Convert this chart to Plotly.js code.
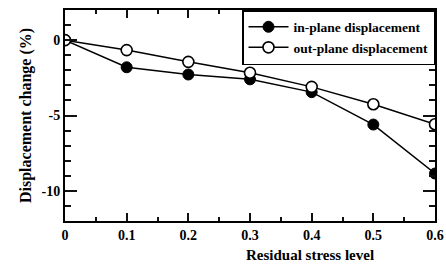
<!DOCTYPE html>
<html>
<head>
<meta charset="utf-8">
<script src="https://cdn.plot.ly/plotly-3.0.1.min.js"></script>
<style>html,body{margin:0;padding:0;background:#fff;}#chart{width:446px;height:268px;}</style>
</head>
<body>
<div id="chart"></div>
<script>
const stressLevel = [0, 0.1, 0.2, 0.3, 0.4, 0.5, 0.6];
const inPlane = [0, -1.8, -2.28, -2.6, -3.45, -5.6, -8.85];
const outPlane = [0, -0.66, -1.44, -2.16, -3.1, -4.25, -5.58];
const yLabelAlias = {'\u22125': '-5', '\u221210': '-10'};

const fontFam = '"Liberation Serif", "Times New Roman", serif';

const traces = [
  {
    x: stressLevel, y: inPlane, name: 'in-plane displacement',
    mode: 'lines+markers', type: 'scatter',
    line: {color: '#000', width: 1.5},
    marker: {symbol: 'circle', size: 11, color: '#000', line: {color: '#000', width: 1}}
  },
  {
    x: stressLevel, y: outPlane, name: 'out-plane displacement',
    mode: 'lines+markers', type: 'scatter',
    line: {color: '#000', width: 1.5},
    marker: {symbol: 'circle', size: 11, color: '#fff', line: {color: '#000', width: 1.6}}
  }
];

const layout = {
  width: 446, height: 268,
  margin: {l: 65, r: 11, t: 10, b: 47},
  paper_bgcolor: '#fff', plot_bgcolor: '#fff',
  font: {family: fontFam, size: 14, color: '#000', weight: 'bold'},
  showlegend: true,
  legend: {
    x: 1, xanchor: 'right', y: 1, yanchor: 'top',
    bordercolor: '#000', borderwidth: 1.5, bgcolor: '#fff',
    font: {family: fontFam, size: 13.5, color: '#000', weight: 'bold'},
    tracegroupgap: 0, itemwidth: 40
  },
  xaxis: {
    range: [0, 0.6], showgrid: false, zeroline: false,
    showline: true, linecolor: 'black', linewidth: 2, mirror: 'ticks',
    ticks: 'inside', ticklen: 8, tickwidth: 2, tickcolor: '#111',
    dtick: 0.1,
    tickfont: {family: fontFam, size: 14, color: '#000', weight: 'bold'},
    minor: {dtick: 0.05, ticks: 'inside', ticklen: 4, tickwidth: 2, tickcolor: '#111'}
  },
  yaxis: {
    range: [-12, 2], showgrid: false, zeroline: false,
    showline: true, linecolor: 'black', linewidth: 2, mirror: 'ticks',
    ticks: 'inside', ticklen: 12, tickwidth: 2, tickcolor: '#111',
    dtick: 5,
    labelalias: yLabelAlias,
    tickfont: {family: fontFam, size: 14, color: '#000', weight: 'bold'},
    title: {text: 'Displacement change (%)', font: {family: fontFam, size: 16, color: '#000', weight: 'bold'}, standoff: 6},
    minor: {dtick: 1, ticks: 'inside', ticklen: 6, tickwidth: 2, tickcolor: '#111'}
  },
  annotations: [
    {
      text: 'Residual stress level', xref: 'paper', yref: 'paper',
      x: 0.662, y: -0.163, xanchor: 'center', yanchor: 'middle', showarrow: false,
      font: {family: fontFam, size: 15, color: '#000', weight: 'bold'}
    }
  ]
};

Plotly.newPlot('chart', traces, layout, {displayModeBar: false, staticPlot: true});
</script>
</body>
</html>
